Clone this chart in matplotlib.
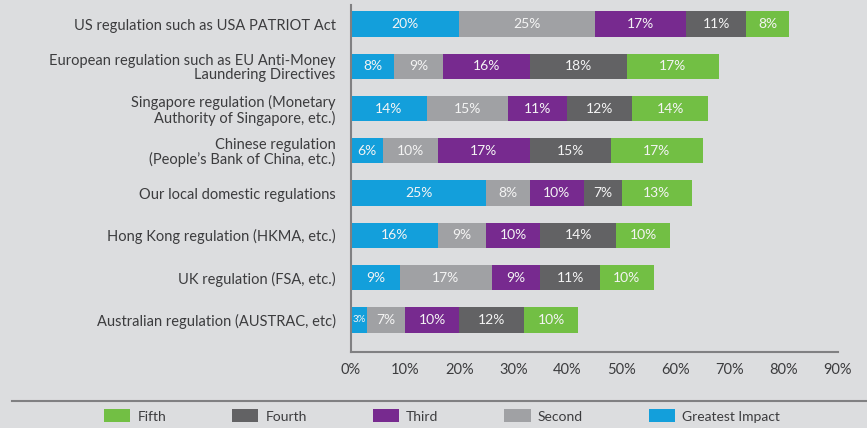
import matplotlib
matplotlib.use('Agg')
import numpy as np
import matplotlib.pyplot as plt
from matplotlib.patches import Patch

regulations = [
    'US regulation such as USA PATRIOT Act',
    'European regulation such as EU Anti-Money\nLaundering Directives',
    'Singapore regulation (Monetary\nAuthority of Singapore, etc.)',
    'Chinese regulation\n(People\u2019s Bank of China, etc.)',
    'Our local domestic regulations',
    'Hong Kong regulation (HKMA, etc.)',
    'UK regulation (FSA, etc.)',
    'Australian regulation (AUSTRAC, etc)',
]
greatest = [20, 8, 14, 6, 25, 16, 9, 3]
second = [25, 9, 15, 10, 8, 9, 17, 7]
third = [17, 16, 11, 17, 10, 10, 9, 10]
fourth = [11, 18, 12, 15, 7, 14, 11, 12]
fifth = [8, 17, 14, 17, 13, 10, 10, 10]
series_names = ['Greatest Impact', 'Second', 'Third', 'Fourth', 'Fifth']
xticks = [0, 10, 20, 30, 40, 50, 60, 70, 80, 90]

bg = '#dcdddf'
colors = ['#139fdb', '#a0a1a4', '#772a8f', '#626264', '#72bf44']
text_color = '#3c3c3e'

plt.rcParams['font.family'] = ['Lato', 'DejaVu Sans']

fig = plt.figure(figsize=(8.67, 4.28), dpi=100, facecolor=bg)
ax = fig.add_axes([351/867, 1 - 352/428, (838 - 351)/867, (352 - 5)/428])
ax.set_facecolor(bg)

y = np.arange(len(regulations))
left = np.zeros(len(regulations))
series = [greatest, second, third, fourth, fifth]
for vals, c in zip(series, colors):
    vals = np.array(vals)
    ax.barh(y, vals, left=left, height=0.6, color=c, edgecolor='none')
    for yi, l, v in zip(y, left, vals):
        fs = 7 if v < 5 else 10
        ax.text(l + v/2, yi, f'{v}%', ha='center', va='center',
                color='#f4f4f4', fontsize=fs)
    left += vals

ax.set_xlim(0, 90)
ax.set_ylim(7.76, -0.45)
ax.set_yticks(y)
ax.set_yticklabels(regulations, fontsize=10.5, color=text_color,
                   ha='right', linespacing=1.05)
ax.set_xticks(xticks)
ax.set_xticklabels([f'{t}%' for t in xticks], fontsize=10.5, color=text_color)
ax.tick_params(length=0)
ax.tick_params(axis='y', pad=11)
ax.tick_params(axis='x', pad=8)
for s in ['top', 'right']:
    ax.spines[s].set_visible(False)
for s in ['left', 'bottom']:
    ax.spines[s].set_color('#808082')
    ax.spines[s].set_linewidth(1.5)

# separator line above the legend
fig.add_artist(plt.Line2D([12/867, 1], [1 - 401/428, 1 - 401/428],
                          color='#808082', lw=1.5))

handles = [Patch(facecolor=colors[i], edgecolor='none', label=series_names[i])
           for i in [4, 3, 2, 1, 0]]
fig.legend(handles=handles, loc='center', bbox_to_anchor=(442/867, 1 - 416/428),
           ncol=5, frameon=False, fontsize=10, handlelength=1.9,
           handleheight=1.05, handletextpad=0.5, columnspacing=4.75,
           labelcolor=text_color)

fig.savefig('out.png', dpi=100, facecolor=bg)
